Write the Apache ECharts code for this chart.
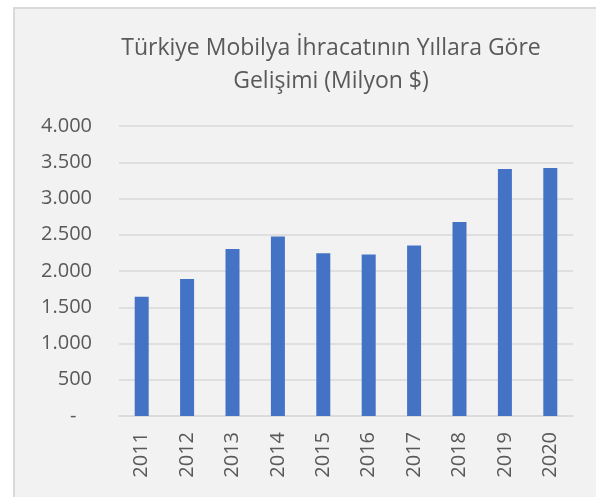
<!DOCTYPE html>
<html>
<head>
<meta charset="utf-8">
<script src="https://cdn.jsdelivr.net/npm/echarts@6/dist/echarts.min.js"></script>
<style>
  html, body { margin: 0; padding: 0; background: #fff; }
  #frame {
    position: absolute; left: 13px; top: 7px;
    width: 600px; height: 500px;
    background: #f2f2f2; border: 2px solid #d9d9d9;
  }
  #main { position: absolute; left: 0; top: 0; width: 596px; height: 497px; }
</style>
</head>
<body>
<div id="frame"></div>
<div id="main"></div>
<script>
// yıllar ve ihracat değerleri (milyon $)
var years = ["2011", "2012", "2013", "2014", "2015", "2016", "2017", "2018", "2019", "2020"];
var exports = [1644, 1888, 2305, 2476, 2246, 2228, 2352, 2677, 3408, 3421];

var myChart = echarts.init(document.getElementById("main"));
myChart.setOption({
  backgroundColor: "transparent",
  textStyle: { fontFamily: "Open Sans" },
  title: {
    text: "Türkiye Mobilya İhracatının Yıllara Göre\nGelişimi (Milyon $)",
    left: 326,
    top: 27,
    textAlign: "center",
    textStyle: { fontSize: 23, fontWeight: "normal", color: "#595959", lineHeight: 33, fontFamily: "Open Sans" }
  },
  grid: { left: 119, right: 23, top: 126, bottom: 81 },
  xAxis: {
    type: "category",
    data: years,
    axisLine: { lineStyle: { color: "#d9d9d9", width: 1.5 } },
    axisTick: { show: false },
    axisLabel: { rotate: 90, margin: 16, fontSize: 20, color: "#595959" }
  },
  yAxis: {
    type: "value",
    min: 0,
    max: 4000,
    interval: 500,
    axisLine: { show: false },
    axisTick: { show: false },
    splitLine: { lineStyle: { color: "#d9d9d9", width: 1.5 } },
    axisLabel: {
      margin: 27,
      fontSize: 20,
      color: "#595959",
      formatter: function (v) {
        if (v === 0) return "-   ";
        return v.toLocaleString("de-DE");
      }
    }
  },
  series: [{
    type: "bar",
    data: exports,
    barWidth: 14,
    itemStyle: { color: "#4472C4" }
  }]
});
</script>
</body>
</html>
